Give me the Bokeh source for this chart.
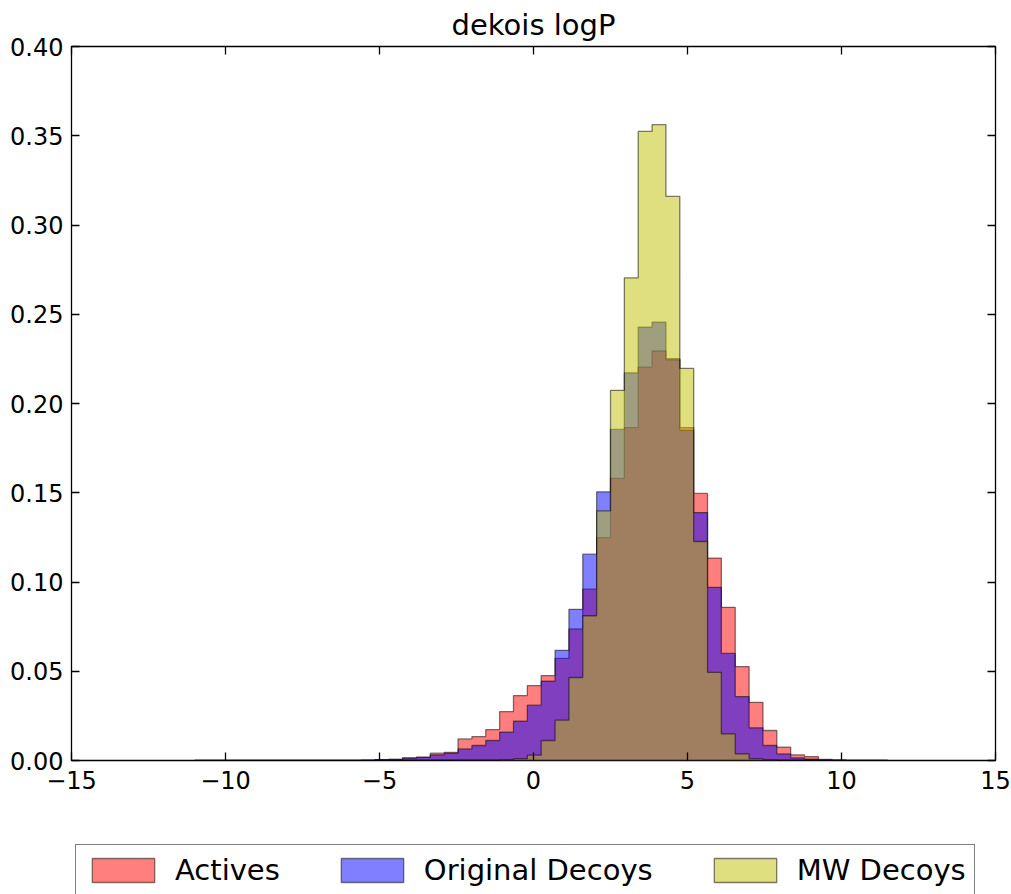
import numpy as np
from bokeh.plotting import figure
from bokeh.layouts import column
from bokeh.models import (Range1d, FixedTicker, LinearAxis, Legend, LegendItem,
                          PrintfTickFormatter, CustomJSTickFormatter)
from bokeh.embed import file_html
from bokeh.resources import INLINE

FONT = "DejaVu Sans"

# Shared histogram binning: 50 bins spanning the pooled logP range
bin_lo, bin_hi, n_bins = -11.0, 11.5, 50
edges = np.linspace(bin_lo, bin_hi, n_bins + 1)

# Normalised bin heights (density) for each set
actives = [0, 0, 0, 0, 0, 0, 0, 0, 0, 0,
           0, 0, 0.0002, 0.0005, 0.0006, 0.0015, 0.0019, 0.0041, 0.0046, 0.0121,
           0.0134, 0.0173, 0.0274, 0.0364, 0.0420, 0.0476, 0.0572, 0.0737, 0.0960, 0.1249,
           0.1581, 0.1865, 0.2204, 0.2294, 0.2251, 0.1865, 0.1496, 0.1134, 0.0858, 0.0526,
           0.0326, 0.0168, 0.0075, 0.0032, 0.0022, 0.0006, 0.0003, 0, 0, 0]
original_decoys = [0, 0, 0, 0, 0, 0, 0, 0, 0, 0,
                   0, 0, 0.0002, 0.0005, 0.0006, 0.0013, 0.0017, 0.0032, 0.0040, 0.0065,
                   0.0084, 0.0112, 0.0159, 0.0220, 0.0310, 0.0444, 0.0617, 0.0847, 0.1156, 0.1505,
                   0.1855, 0.2172, 0.2428, 0.2456, 0.2245, 0.1850, 0.1389, 0.0970, 0.0600, 0.0358,
                   0.0183, 0.0084, 0.0037, 0.0015, 0.0008, 0.0004, 0.0002, 0, 0, 0]
mw_decoys = [0, 0, 0, 0, 0, 0, 0, 0, 0, 0,
             0, 0, 0, 0, 0, 0, 0, 0, 0, 0,
             0, 0, 0.0004, 0.0010, 0.0030, 0.0112, 0.0226, 0.0465, 0.0811, 0.1399,
             0.2074, 0.2704, 0.3524, 0.3562, 0.3160, 0.2197, 0.1227, 0.0494, 0.0149, 0.0037,
             0.0010, 0.0004, 0, 0, 0, 0, 0, 0, 0, 0]

series = [("Actives", actives, "#ff0000"),
          ("Original Decoys", original_decoys, "#0000ff"),
          ("MW Decoys", mw_decoys, "#bfbf00")]

x_ticks = [-15, -10, -5, 0, 5, 10, 15]
y_ticks = [0.0, 0.05, 0.10, 0.15, 0.20, 0.25, 0.30, 0.35, 0.40]

p = figure(width=1011, height=810, output_backend="svg", toolbar_location=None,
           x_range=Range1d(-15, 15), y_range=Range1d(0, 0.40),
           min_border_left=71, min_border_right=16, min_border_top=45,
           min_border_bottom=50, title="dekois logP")

p.title.text_font = FONT
p.title.text_font_size = "29px"
p.title.text_font_style = "normal"
p.title.align = "center"
p.title.text_color = "black"

p.grid.visible = False
p.outline_line_color = "black"
p.outline_line_width = 1.3
p.background_fill_color = "white"
p.border_fill_color = "white"


def step_outline(hist_edges, heights):
    """Closed step polygon of a filled histogram."""
    xs = np.repeat(hist_edges, 2)
    ys = np.concatenate([[0.0], np.repeat(np.asarray(heights, float), 2), [0.0]])
    return xs, ys


style = dict(fill_alpha=0.5, line_color="black", line_alpha=0.5, line_width=1.3)

for name, heights, color in series:
    xs, ys = step_outline(edges, heights)
    p.patch(xs, ys, fill_color=color, **style)


def style_axis(ax, ticks, show_labels):
    ax.ticker = FixedTicker(ticks=ticks)
    ax.axis_line_color = None
    ax.major_tick_in = 8
    ax.major_tick_out = 0
    ax.major_tick_line_color = "black"
    ax.major_tick_line_width = 1.3
    ax.minor_tick_line_color = None
    ax.major_label_text_font = FONT
    ax.major_label_text_font_size = "24px"
    ax.major_label_text_color = "black"
    if not show_labels:
        ax.formatter = CustomJSTickFormatter(code="return '';")
        ax.major_label_standoff = 0


xaxis = p.xaxis[0]
style_axis(xaxis, x_ticks, True)
xaxis.major_label_standoff = 10
xaxis.major_label_overrides = {t: (str(t).replace("-", "\u2212")) for t in x_ticks}

yaxis = p.yaxis[0]
style_axis(yaxis, y_ticks, True)
yaxis.formatter = PrintfTickFormatter(format="%.2f")
yaxis.major_label_standoff = 8

top_axis = LinearAxis()
style_axis(top_axis, x_ticks, False)
p.add_layout(top_axis, "above")

right_axis = LinearAxis()
style_axis(right_axis, y_ticks, False)
p.add_layout(right_axis, "right")

# Strip under the chart that carries the horizontal legend; its own copies of
# the histogram shapes lie outside its visible range and only feed the swatches
key = figure(width=1011, height=84, output_backend="svg", toolbar_location=None,
             x_range=Range1d(-15, 15), y_range=Range1d(10, 11),
             x_axis_type=None, y_axis_type=None, min_border=0)
key.grid.visible = False
key.outline_line_color = None
key.background_fill_color = "white"
key.border_fill_color = "white"

items = []
for name, heights, color in series:
    xs, ys = step_outline(edges, heights)
    swatch = key.patch(xs, ys, fill_color=color, **style)
    items.append(LegendItem(label=name, renderers=[swatch]))

# area swatches are drawn inset by 10% of the glyph box
legend = Legend(items=items, orientation="horizontal", location=(4, -2),
                label_text_font=FONT, label_text_font_size="29px",
                label_text_color="black",
                glyph_width=78, glyph_height=30, label_standoff=13,
                spacing=53, padding=8, margin=0,
                border_line_color="black", border_line_width=1.3,
                background_fill_color="white", background_fill_alpha=1.0)
key.add_layout(legend, "center")

layout = column(p, key, spacing=0)
open("out.html", "w").write(file_html(layout, INLINE))
